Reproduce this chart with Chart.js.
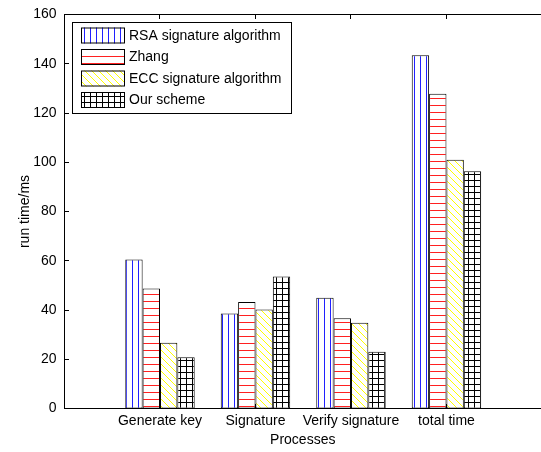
<!DOCTYPE html>
<html lang="en">
<head>
<meta charset="UTF-8">
<title>run time comparison</title>
<script src="https://cdn.jsdelivr.net/npm/chart.js@4.4.8/dist/chart.umd.min.js"></script>
<style>
  html, body { margin: 0; padding: 0; background: #fff; overflow: hidden; }
  #wrap { width: 541px; height: 452px; position: relative; }
</style>
</head>
<body>
<div id="wrap"><canvas id="chart"></canvas></div>
<script>
// data
const categories = ['Generate key', 'Signature', 'Verify signature', 'total time'];
const positions = [1, 2, 3, 4];
const rsa = [60.5, 38.6, 45, 143.5];
const zhang = [48.7, 43.2, 36.6, 127.8];
const ecc = [26.7, 40.2, 34.8, 101];
const ours = [20.8, 53.6, 23, 96.3];
const yTicks = [0, 20, 40, 60, 80, 100, 120, 140, 160];

const FONT = '"Liberation Sans", Arial, sans-serif';

// hatch patterns like matlab's applyhatch
function hatch(w, h, draw) {
  const c = document.createElement('canvas');
  c.width = w; c.height = h;
  const g = c.getContext('2d');
  g.fillStyle = '#fff';
  g.fillRect(0, 0, w, h);
  draw(g);
  return g.createPattern(c, 'repeat');
}
const pRsa = hatch(6, 1, g => { g.fillStyle = '#2020ff'; g.fillRect(0, 0, 1, 1); });
const pZhang = hatch(1, 7, g => { g.fillStyle = '#ff2020'; g.fillRect(0, 0, 1, 1); });
const pEcc = hatch(7, 7, g => {
  g.fillStyle = '#ffff00';
  for (let i = 0; i < 7; i++) g.fillRect(i, i, 1, 1);
});
const pOurs = hatch(6, 6, g => {
  g.fillStyle = '#000';
  g.fillRect(0, 0, 6, 1);
  g.fillRect(0, 0, 1, 6);
});

const toPts = arr => arr.map((v, i) => ({ x: positions[i], y: v }));

function ds(label, arr, pat) {
  return {
    label: label,
    data: toPts(arr),
    backgroundColor: pat,
    borderColor: '#000',
    borderWidth: 1,
    borderSkipped: false,
    categoryPercentage: 0.727,
    barPercentage: 1
  };
}

// box and inward ticks; the axes run off the right edge of the picture
const framePlugin = {
  id: 'frame',
  afterDraw(chart) {
    const { ctx, chartArea: a, scales } = chart;
    const x0 = Math.floor(a.left), yT = Math.floor(a.top), yB = Math.floor(a.bottom);
    ctx.save();
    ctx.fillStyle = '#000';
    ctx.fillRect(x0, yT, chart.width - x0, 1);
    ctx.fillRect(x0, yB, chart.width - x0, 1);
    ctx.fillRect(x0, yT, 1, yB - yT + 1);
    yTicks.forEach(v => {
      const y = Math.floor(scales.y.getPixelForValue(v));
      ctx.fillRect(x0, y, 5, 1);
    });
    positions.forEach(p => {
      const x = Math.floor(scales.x.getPixelForValue(p));
      ctx.fillRect(x, yT, 1, 5);
      ctx.fillRect(x, yB - 4, 1, 5);
    });
    ctx.restore();
  }
};

// legend box inside the axes, top left
const legendPlugin = {
  id: 'boxLegend',
  afterDraw(chart) {
    const ctx = chart.ctx;
    const bx = 72.5, by = 22.5, bw = 219, bh = 91;
    ctx.save();
    ctx.fillStyle = '#fff';
    ctx.fillRect(bx, by, bw, bh);
    ctx.strokeStyle = '#000';
    ctx.lineWidth = 1;
    ctx.strokeRect(bx, by, bw, bh);
    chart.data.datasets.forEach((d, i) => {
      const sy = 27.5 + i * 21.5;
      ctx.fillStyle = d.backgroundColor;
      ctx.fillRect(81, sy, 44, 16);
      ctx.strokeStyle = '#000';
      ctx.strokeRect(81.5, sy + 0.5, 43, 15);
      ctx.fillStyle = '#000';
      ctx.font = '14px ' + FONT;
      ctx.textBaseline = 'middle';
      ctx.textAlign = 'left';
      ctx.fillText(d.label, 129, sy + 8.5);
    });
    ctx.restore();
  }
};

Chart.defaults.font.family = FONT;
Chart.defaults.font.size = 14;
Chart.defaults.color = '#000';

new Chart(document.getElementById('chart'), {
  type: 'bar',
  data: {
    datasets: [
      ds('RSA signature algorithm', rsa, pRsa),
      ds('Zhang', zhang, pZhang),
      ds('ECC signature algorithm', ecc, pEcc),
      ds('Our scheme', ours, pOurs)
    ]
  },
  options: {
    responsive: true,
    maintainAspectRatio: false,
    devicePixelRatio: 1,
    animation: false,
    layout: { padding: { top: 14.5, right: 0, left: 0, bottom: 0 } },
    plugins: {
      legend: { display: false },
      tooltip: { enabled: false }
    },
    scales: {
      x: {
        type: 'linear',
        min: 0,
        max: 4.99,
        offset: false,
        grid: { display: false, drawTicks: false, offset: false },
        border: { display: false },
        afterBuildTicks: s => { s.ticks = positions.map(v => ({ value: v })); },
        afterFit: s => {
          s.height = 43.5;
          s.paddingLeft = 0;
          s.paddingRight = 0;
        },
        ticks: {
          autoSkip: false,
          maxRotation: 0,
          padding: 4,
          callback: v => categories[positions.indexOf(v)] || ''
        },
        title: {
          display: true,
          text: 'Processes',
          padding: { top: 0, bottom: 3 }
        }
      },
      y: {
        min: 0,
        max: 160,
        grid: { display: false, drawTicks: false },
        border: { display: false },
        afterBuildTicks: s => { s.ticks = yTicks.map(v => ({ value: v })); },
        afterFit: s => {
          s.width = 64.5;
          s.paddingTop = 0;
          s.paddingBottom = 0;
        },
        ticks: { padding: 8 },
        title: {
          display: true,
          text: 'run time/ms',
          padding: { top: 17, bottom: 0 }
        }
      }
    }
  },
  plugins: [framePlugin, legendPlugin]
});
</script>
</body>
</html>
